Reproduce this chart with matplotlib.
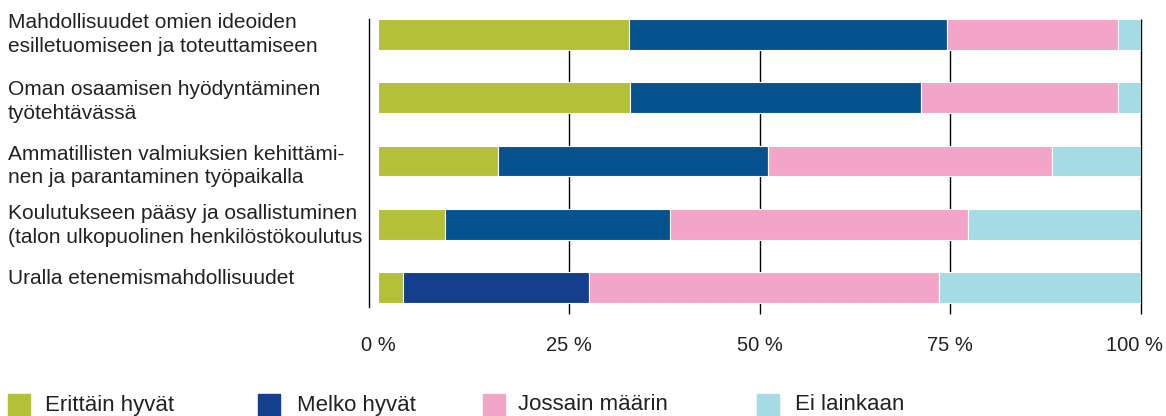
import numpy as np
import matplotlib
matplotlib.use("Agg")
import matplotlib.pyplot as plt
import matplotlib.transforms as mtransforms
from matplotlib.patches import Rectangle

plt.rcParams['font.family'] = ['Liberation Sans', 'DejaVu Sans']

categories = [
    "Mahdollisuudet omien ideoiden\nesilletuomiseen ja toteuttamiseen",
    "Oman osaamisen hyödyntäminen\ntyötehtävässä",
    "Ammatillisten valmiuksien kehittämi-\nnen ja parantaminen työpaikalla",
    "Koulutukseen pääsy ja osallistuminen\n(talon ulkopuolinen henkilöstökoulutus",
    "Uralla etenemismahdollisuudet",
]
series_names = ["Erittäin hyvät", "Melko hyvät", "Jossain määrin", "Ei lainkaan"]
erittain = [32.9, 33.0, 15.7, 8.8, 3.3]
melko = [41.7, 38.2, 35.4, 29.5, 24.4]
jossain = [22.4, 25.8, 37.2, 39.0, 45.8]
ei = [3.0, 3.0, 11.7, 22.7, 26.5]
tick_vals = [0, 25, 50, 75, 100]
tick_labels = ["0 %", "25 %", "50 %", "75 %", "100 %"]

green = '#B4C037'
blue = '#05528F'
blue_dark = '#143F8C'
pink = '#F3A5C9'
cyan = '#A4DBE4'
txt = '#222222'
melko_colors = [blue, blue, blue, blue, blue_dark]
legend_colors = [green, blue_dark, pink, cyan]

W, H = 1166, 416
fig = plt.figure(figsize=(W / 100, H / 100), dpi=100)
ax = fig.add_axes([369 / W, 102 / H, 772 / W, 295 / H])

y = np.arange(len(categories))
h = 0.49
left = np.zeros(len(categories))
for vals, col in [(erittain, green), (melko, melko_colors), (jossain, pink), (ei, cyan)]:
    ax.barh(y, vals, left=left, height=h, color=col, edgecolor='white',
            linewidth=0.8, zorder=3)
    left = left + np.array(vals)

ax.set_xlim(-1.18, 100)
ax.set_ylim(4.419, -0.245)

# grid lines behind the bars
ax.vlines(tick_vals[1:], -0.245, 4.419, color='black', linewidth=1.0,
          zorder=1, clip_on=False)

for s in ['top', 'right', 'bottom']:
    ax.spines[s].set_visible(False)
ax.spines['left'].set_bounds(-0.245, 4.308)
ax.spines['left'].set_linewidth(1.0)

ax.set_yticks([])
ax.set_xticks(tick_vals)
ax.set_xticklabels(tick_labels, fontsize=14.5, color=txt)
ax.tick_params(axis='x', length=0, pad=16)
# last label sits a little left of the 100 % line
lbl = ax.get_xticklabels()[-1]
lbl.set_transform(lbl.get_transform() +
                  mtransforms.ScaledTranslation(-7 / 100, 0, fig.dpi_scale_trans))

# category labels on the left
offsets = [0, 4, 5, 1.5, -9]
base = mtransforms.blended_transform_factory(fig.transFigure, ax.transData)
for i, (lab, off) in enumerate(zip(categories, offsets)):
    tr = base + mtransforms.ScaledTranslation(0, -off / 100, fig.dpi_scale_trans)
    fig.text(8 / W, y[i], lab, transform=tr, fontsize=15, color=txt,
             ha='left', va='center', linespacing=1.32)

# legend
sq_x = [8, 258, 483, 757]
tx_x = [45, 297, 518, 795]
for name, col, sx, tx in zip(series_names, legend_colors, sq_x, tx_x):
    fig.patches.append(Rectangle((sx / W, 0), 22 / W, 22 / H, color=col,
                                 transform=fig.transFigure, figure=fig))
    fig.text(tx / W, 11 / H, name, fontsize=16, color=txt, ha='left', va='center')

fig.savefig("out.png", dpi=100)
